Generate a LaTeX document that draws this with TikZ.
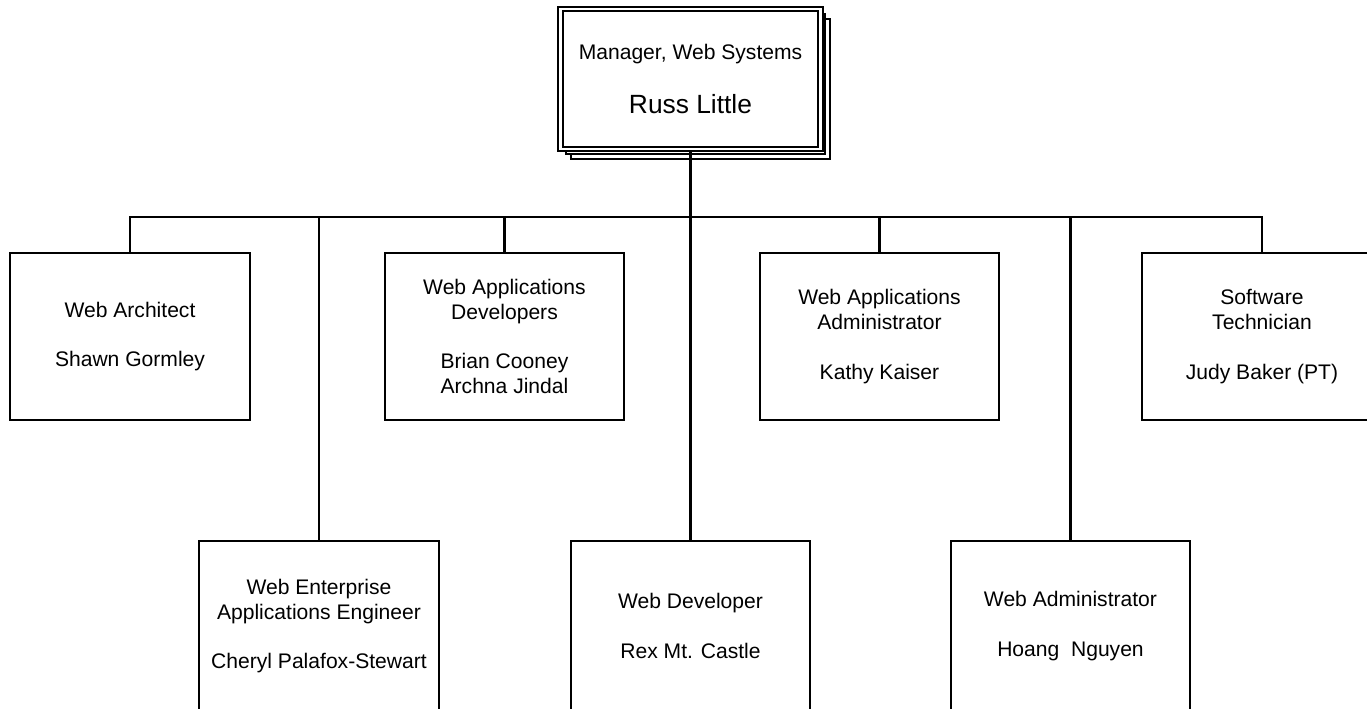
\documentclass[tikz,border=0pt]{standalone}
\usepackage{fontspec}
\setmainfont{Liberation Sans}
\usetikzlibrary{positioning,shadows}

\begin{document}
\begin{tikzpicture}[x=0.02cm,y=-0.02cm,line width=1.15pt, every node/.style={font=\fontsize{12}{14.2}\selectfont}]
			\tikzstyle{boxstyle} = [draw, fill=white, align=center, inner sep=0pt, minimum width=4.8cm, minimum height=3.34cm]
			\tikzstyle{lowboxstyle} = [boxstyle, minimum height=3.4cm]
			\tikzstyle{bossstyle} = [draw, fill=white, double, double distance=1.3pt, align=center, inner sep=0pt, minimum width=5.2cm, minimum height=2.8cm, double copy shadow={shadow xshift=0.1cm, shadow yshift=-0.1cm}]
			
			\useasboundingbox (0,0) rectangle (1367,708);
			\clip (0,0) rectangle (1367,708);
			
			\node [bossstyle] (M1) at (690.5,79) {\fontsize{12}{13}\selectfont Manager, Web Systems\\[16pt]\fontsize{15}{17}\selectfont Russ Little};
			\coordinate (J1) at (690.5,217);
			
			\node [boxstyle] (B1) at (130,336.5) {Web Architect\\[14pt]Shawn Gormley};
			\node [boxstyle] (B2) at (504.5,336.5) {Web Applications\\Developers\\[14pt]Brian Cooney\\Archna Jindal};
			\node [boxstyle] (B3) at (879.5,336.5) {Web Applications\\Administrator\\[14pt]Kathy Kaiser};
			\node [boxstyle] (B4) at (1262,336.5) {Software\\Technician\\[14pt]Judy Baker (PT)};
			
			\node [lowboxstyle] (C1) at (319,626) {Web Enterprise\\Applications Engineer\\[14pt]Cheryl Palafox-Stewart};
			\node [lowboxstyle] (C2) at (690.5,626) {Web Developer\\[14pt]Rex Mt. Castle};
			\node [lowboxstyle] (C3) at (1070.5,626) {Web Administrator\\[14pt]Hoang~~Nguyen};
			
			\draw (M1.south) -- (C2.north);
			\foreach \n in {B1,B2,B3,B4,C1,C3}
				\draw (\n.north) |- (J1);
			
\end{tikzpicture}
\end{document}
